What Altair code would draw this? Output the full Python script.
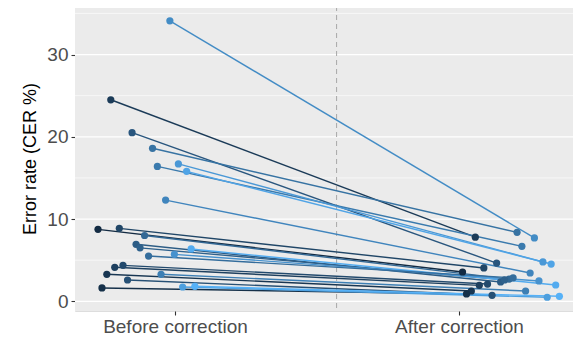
import altair as alt
import pandas as pd

# Per-subject values
jitter = [-0.018, -0.226, -0.151, -0.079, -0.062, 0.012, 0.041, -0.033,
          -0.271, -0.196, -0.107, -0.137, -0.123, 0.057, -0.002, -0.093,
          -0.183, -0.212, -0.240, -0.049, -0.167, -0.257, 0.027, 0.070]
before = [34.1, 24.5, 20.5, 18.6, 16.4, 16.7, 15.8, 12.3,
          8.75, 8.87, 8.0, 6.93, 6.5, 6.36, 5.71, 5.5,
          4.37, 4.13, 3.28, 3.28, 2.59, 1.62, 1.74, 1.82]
after = [7.7, 7.8, 4.65, 8.38, 6.68, 4.78, 4.53, 3.44,
         3.56, 4.05, 2.7, 2.35, 2.6, 1.98, 2.47, 2.85,
         2.1, 1.94, 1.25, 1.25, 0.73, 0.89, 0.49, 0.61]
categories = ["Before correction", "After correction"]
after_shift = 0.2835
divider_x = 1.569
major_ticks = [0, 10, 20, 30]
minor_ticks = [5, 15, 25, 35]

rows = []
for i, (j, b, a) in enumerate(zip(jitter, before, after)):
    rows.append({"id": i, "x": 1 + j, "cer": b, "jit": j})
    rows.append({"id": i, "x": 2 + j + after_shift, "cer": a, "jit": j})
df = pd.DataFrame(rows)

FONT = "Liberation Sans"
xscale = alt.Scale(domain=[0.648, 2.4014], nice=False, zero=False)
yscale = alt.Scale(domain=[-1.18, 35.9], nice=False, zero=False)

xaxis = alt.Axis(values=[1, 2], grid=False, domain=False, title=None,
                 labelExpr=f"datum.value == 1 ? '{categories[0]}' : '{categories[1]}'",
                 tickColor="#333333", tickSize=4, tickWidth=1.1,
                 labelColor="#4D4D4D", labelFontSize=19, labelFont=FONT,
                 labelPadding=2)
yaxis = alt.Axis(values=major_ticks, grid=False,
                 domain=False, title="Error rate (CER %)",
                 tickColor="#333333", tickSize=4, tickWidth=1.1,
                 labelColor="#4D4D4D", labelFontSize=19, labelFont=FONT,
                 labelPadding=3, titleFont=FONT, titleFontSize=18,
                 titleFontWeight="normal", titleColor="black", titlePadding=7)

X = alt.X("x:Q", scale=xscale, axis=xaxis)
Y = alt.Y("cer:Q", scale=yscale, axis=yaxis)
color = alt.Color("jit:Q", scale=alt.Scale(range=["#132B43", "#56B1F7"], interpolate="lab"),
                  legend=None)

panel = alt.Chart(pd.DataFrame({"cer": [0]})).mark_rect(color="#EBEBEB").encode(
    x=alt.value(0), x2=alt.value(498), y=alt.value(0), y2=alt.value(305))
major = alt.Chart(pd.DataFrame({"cer": major_ticks})).mark_rule(
    color="#FFFFFF", strokeWidth=1.2).encode(y=Y)
minor = alt.Chart(pd.DataFrame({"cer": minor_ticks})).mark_rule(
    color="#FFFFFF", strokeWidth=0.6).encode(y=Y)
divider = alt.Chart(pd.DataFrame({"x": [divider_x]})).mark_rule(
    color="#A8A8A8", strokeWidth=1, strokeDash=[5, 4]).encode(x=X)
lines = alt.Chart(df).mark_line(strokeWidth=1.4).encode(
    x=X, y=Y, color=color, detail="id:N", order="x:Q")
points = alt.Chart(df).mark_circle(size=52, opacity=1).encode(x=X, y=Y, color=color)

chart = alt.layer(panel, major, minor, divider, lines, points).properties(
    width=498, height=305,
    autosize=alt.AutoSizeParams(type="none"),
    padding={"left": 67, "top": -2, "right": 0, "bottom": 30},
).configure_view(stroke=None).configure(background="white")

chart.save("out.html", embed_options={"renderer": "svg", "actions": False})
